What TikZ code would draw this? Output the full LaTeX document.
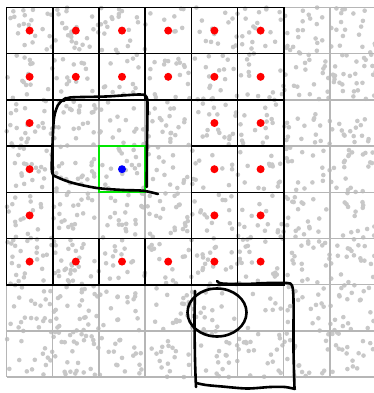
\documentclass[tikz,border=0pt]{standalone}
\begin{document}
\begin{tikzpicture}[x=1pt,y=-1pt]
\definecolor{dotgray}{RGB}{200,200,200}
\definecolor{linegray}{RGB}{182,182,182}
\definecolor{ptred}{RGB}{255,0,0}
\definecolor{ptblue}{RGB}{0,0,255}
\definecolor{boxgreen}{RGB}{0,230,0}
\tikzset{
  gridline/.style={linegray, line width=1.5pt},
  cellbox/.style={black, line width=1.6pt},
  sample/.style={dotgray},
  center/.style={ptred},
  query/.style={ptblue},
  querybox/.style={boxgreen, line width=2pt},
  sketch/.style={black, line width=2.6pt, line cap=round, line join=round}
}
\fill[white] (0,0) rectangle (374,393);
\useasboundingbox (0,0) rectangle (374,393);
\def\cs{46.2}
\def\ox{6.5}
\def\oy{7.5}
% random samples
\pgfmathsetseed{4242}
\foreach \i in {1,...,1200}{
  \pgfmathsetmacro\px{6.5+rnd*369.5}
  \pgfmathsetmacro\py{7.5+rnd*370}
  \fill[sample] (\px,\py) circle (2.3pt);
}
% light grid
\foreach \k in {0,...,8}{
  \draw[gridline] ({\ox+\cs*\k},\oy) -- ({\ox+\cs*\k},{\oy+8*\cs});
  \draw[gridline] (\ox,{\oy+\cs*\k}) -- ({\ox+8*\cs},{\oy+\cs*\k});
}
% occupied cells
\foreach \c/\r in {1/1,2/1,3/1,4/1,5/1,6/1,
                   1/2,2/2,3/2,4/2,5/2,6/2,
                   1/3,5/3,6/3,
                   1/4,5/4,6/4,
                   1/5,5/5,6/5,
                   1/6,2/6,3/6,4/6,5/6,6/6}{
  \draw[cellbox] ({\ox+\cs*(\c-1)},{\oy+\cs*(\r-1)}) rectangle ({\ox+\cs*\c},{\oy+\cs*\r});
}
\foreach \c/\r in {1/1,2/1,3/1,4/1,5/1,6/1,
                   1/2,2/2,3/2,4/2,5/2,6/2,
                   1/3,5/3,6/3,
                   1/4,5/4,6/4,
                   1/5,5/5,6/5,
                   1/6,2/6,3/6,4/6,5/6,6/6}{
  \fill[center] ({\ox+\cs*(\c-0.5)},{\oy+\cs*(\r-0.5)}) circle (4pt);
}
% query cell
\draw[querybox] ({\ox+\cs*2},{\oy+\cs*3}) rectangle ({\ox+\cs*3},{\oy+\cs*4});
\fill[query] ({\ox+\cs*2.5},{\oy+\cs*3.5}) circle (4pt);
% hand-drawn marks
\draw[sketch] plot[smooth, tension=0.5] coordinates {(158,194) (143,190.7) (123,190) (97,188) (73,183) (58,177.5) (52,172) (52.5,145) (54,118) (58,105) (63,100) (66,98)};
\draw[sketch] plot[smooth, tension=0.5] coordinates {(64,101) (70,97.5) (106,96.5) (140,94.5) (146.5,97) (147.5,106) (147,145) (146.7,187)};
\draw[sketch] (217,312.5) ellipse [x radius=29.5pt, y radius=24pt];
\draw[sketch] plot[smooth, tension=0.5] coordinates {(195,291) (194.5,320) (195,360) (196,387)};
\draw[sketch] plot[smooth, tension=0.5] coordinates {(217,281) (222,283.5) (245,284) (268,283) (287,283) (292,285.5) (293.5,300) (293.5,350) (294.5,388)};
\draw[sketch] plot[smooth, tension=0.5] coordinates {(196,383) (206,385) (222,386.5) (247,388.5) (270,387) (285,387) (295,389)};
\end{tikzpicture}
\end{document}
